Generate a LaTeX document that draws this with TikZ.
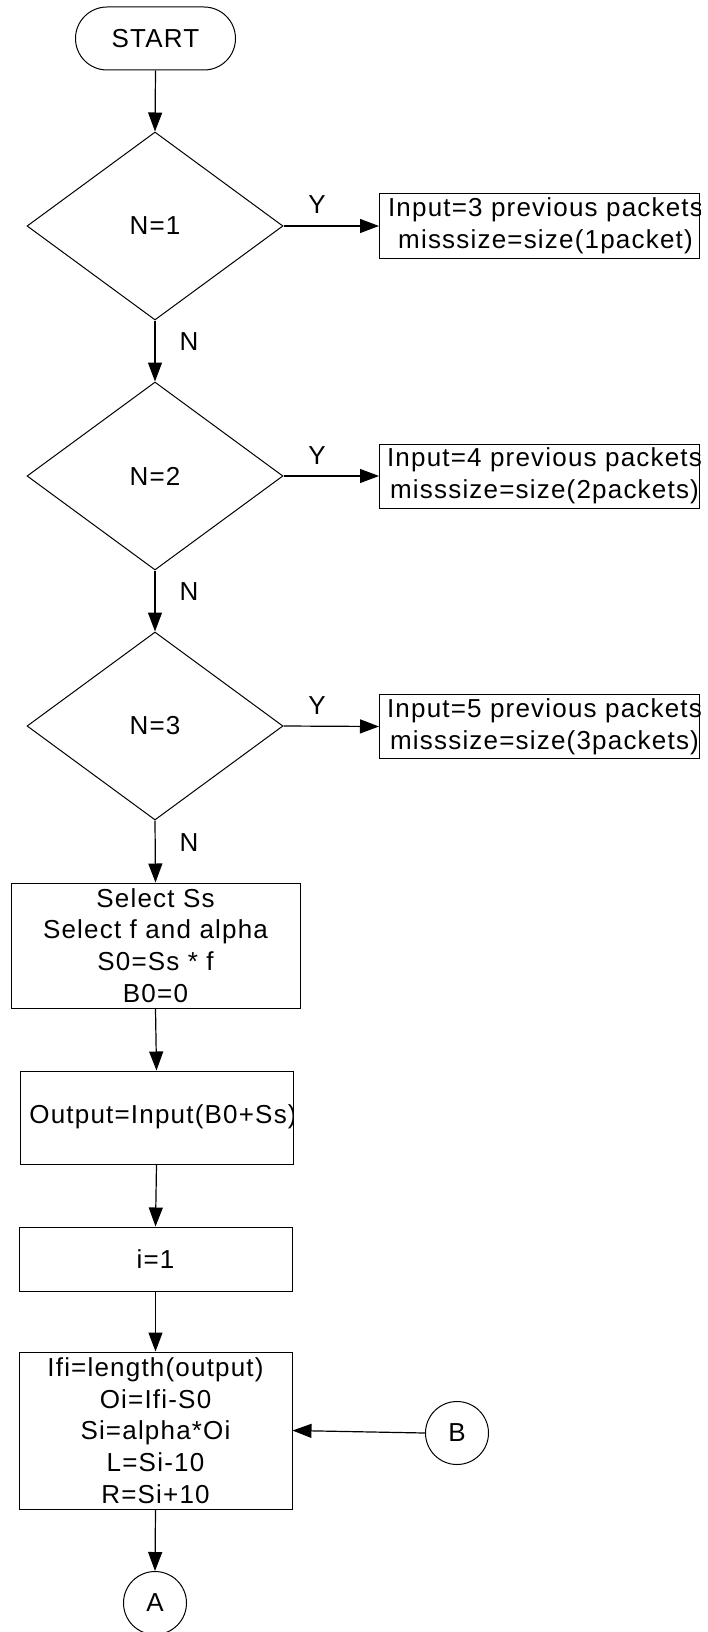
\documentclass[tikz,border=0pt]{standalone}
\usepackage{fontspec}
\setmainfont{Liberation Sans}[LetterSpace=4.6,Ligatures=NoCommon]
\usetikzlibrary{arrows.meta,shapes.geometric}
\begin{document}
\begin{tikzpicture}[x=1pt,y=-1pt,
  every node/.style={font=\fontsize{26}{31.7}\selectfont, line width=1pt},
  box/.style={draw, rectangle, inner sep=0pt, align=center},
  dec/.style={draw, diamond, inner sep=0pt, minimum width=256pt, minimum height=188pt, aspect=1.36},
  term/.style={draw, rectangle, rounded corners=31.5pt, minimum width=160pt, minimum height=63pt, inner sep=0pt},
  conn/.style={draw, circle, minimum size=63pt, inner sep=0pt},
  arr/.style={-{Triangle[length=19pt,width=14pt]}, line width=1.2pt},
  lbl/.style={inner sep=0pt},
  txt/.style={inner sep=0pt, align=center}
]
\useasboundingbox (0,0) rectangle (707,1632);

\node[term] (start) at (155.5,38.5) {START};
\node[dec] (d1) at (155,226) {N=1};
\node[dec] (d2) at (155,476) {N=2};
\node[dec] (d3) at (155,726) {N=3};

\node[box, minimum width=320pt, minimum height=64pt] (p1) at (539.5,226) {};
\node[box, minimum width=320pt, minimum height=64pt] (p2) at (539.5,476) {};
\node[box, minimum width=320pt, minimum height=64pt] (p3) at (539.5,726.5) {};
\begin{scope}
  \clip (p1.south west) rectangle (p1.north east);
  \node[txt] at ([xshift=6pt]p1.center) {Input=3 previous packets\\misssize=size(1packet)};
\end{scope}
\begin{scope}
  \clip (p2.south west) rectangle (p2.north east);
  \node[txt] at ([xshift=5pt]p2.center) {Input=4 previous packets\\misssize=size(2packets)};
\end{scope}
\begin{scope}
  \clip (p3.south west) rectangle (p3.north east);
  \node[txt] at ([xshift=5pt]p3.center) {Input=5 previous packets\\misssize=size(3packets)};
\end{scope}

\node[box, minimum width=289pt, minimum height=125pt] (sel) at (155.5,945.5)
  {Select Ss\\Select f and alpha\\S0=Ss * f\\B0=0};
\node[box, minimum width=273pt, minimum height=93pt] (out) at (156.5,1117.5) {};
\begin{scope}
  \clip (out.south west) rectangle (out.north east);
  \node[txt] at (163,1117) {Output=Input(B0+Ss)};
\end{scope}
\node[box, minimum width=273pt, minimum height=64pt] (i1) at (155.5,1259) {i=1};
\node[box, minimum width=273pt, minimum height=157pt] (big) at (155.5,1430.5)
  {Ifi=length(output)\\Oi=Ifi-S0\\Si=alpha*Oi\\L=Si-10\\R=Si+10};
\node[conn] (A) at (155,1603) {A};
\node[conn] (B) at (457,1433) {B};

\node[lbl] (y1) at (317,205) {Y};
\node[lbl] (y2) at (317,456) {Y};
\node[lbl] (y3) at (317,706) {Y};
\node[lbl] (n1) at (189,342) {N};
\node[lbl] (n2) at (189,592) {N};
\node[lbl] (n3) at (189,843) {N};

\draw[arr] (start.south) -- (d1.north);
\draw[arr] (d1.east) -- (p1.west);
\draw[arr] (d2.east) -- (p2.west);
\draw[arr] (d3.east) -- (p3.west);
\draw[arr] (d1.south) -- (d2.north);
\draw[arr] (d2.south) -- (d3.north);
\draw[arr] (d3.south) -- (sel.north);
\draw[arr] (sel.south) -- (out.north);
\draw[arr] (out.south) -- (i1.north);
\draw[arr] (i1.south) -- (big.north);
\draw[arr] (big.south) -- (A.north);
\draw[arr] (B.west) -- (big.east);
\end{tikzpicture}
\end{document}
